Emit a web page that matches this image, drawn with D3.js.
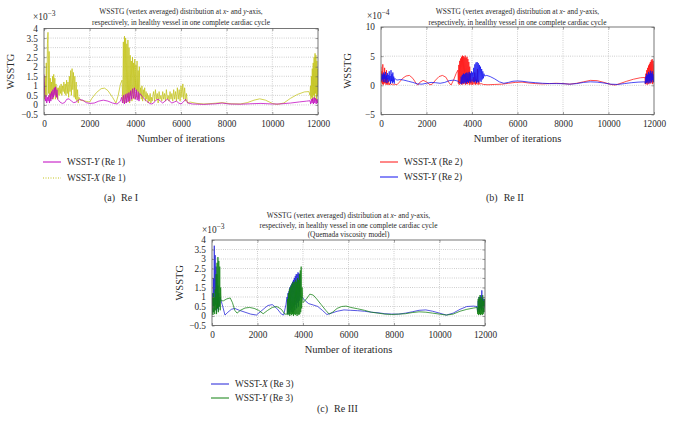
<!DOCTYPE html>
<html><head><meta charset="utf-8">
<script src="https://cdn.jsdelivr.net/npm/d3@7"></script>
<style>
body{margin:0;background:#fff;}
svg{display:block;}
svg text{font-family:"Liberation Serif","DejaVu Serif",serif !important;white-space:pre;}
</style></head><body>
<svg id="chart" width="675" height="432" font-family="Liberation Serif, serif"></svg>
<script>
// ---------- DATA (iteration, value in axis units) ----------
const xTicks = [0,2000,4000,6000,8000,10000,12000];
const yTicksA = [-0.5,0,0.5,1,1.5,2,2.5,3,3.5,4];
const yTicksB = [-5,0,5,10];
const yTicksC = [-0.5,0,0.5,1,1.5,2,2.5,3,3.5,4];

const re1Y = [[0,1.6],[30,0.6],[60,0.2],[90,0.5],[120,0.1],[150,0.4],[180,0.2],[210,0.5],[240,0.1],[270,0.6],[300,0.2],[330,0.7],[360,0.3],[390,0.8],[420,0.4],[450,0.9],[480,0.5],[510,0.95],[540,0.4],[570,0.8],[600,0.3],
[700,0.15],[800,0.08],[900,0.12],[1000,0.3],[1100,0.32],[1200,0.2],[1300,0.12],[1400,0.15],[1550,0.28],[1700,0.25],[1850,0.12],[2000,0.08],[2200,0.1],[2400,0.2],[2600,0.25],[2800,0.2],[3000,0.1],[3200,0.05],[3350,0.2],
[3400,0.4],[3440,0.1],[3480,0.5],[3520,0.05],[3560,0.55],[3600,0.1],[3640,0.6],[3680,0.15],[3720,0.65],[3760,0.2],[3800,0.75],[3840,0.3],[3880,0.85],[3920,0.35],[3960,0.9],[4000,0.3],[4040,0.8],[4080,0.25],[4120,0.7],[4160,0.2],[4200,0.6],
[4300,0.45],[4400,0.3],[4500,0.2],[4600,0.1],[4700,0.05],[4800,0.1],[4900,0.25],[5000,0.3],[5100,0.2],[5200,0.1],[5300,0.2],[5400,0.3],[5500,0.2],[5600,0.1],[5700,0.15],[5800,0.2],[5900,0.1],[6000,0.05],[6100,0.15],[6200,0.3],[6300,0.1],[6500,0.05],[7000,0.03],[7500,0.06],[7800,0.1],[8100,0.05],[8600,0.04],[9000,0.06],[9500,0.08],[10000,0.05],[10300,0.05],[10800,0.1],[11200,0.16],[11500,0.2],[11650,0.22],
[11680,0.05],[11710,0.3],[11740,0.1],[11770,0.35],[11800,0.05],[11830,0.4],[11860,0.1],[11890,0.35],[11920,0.05],[11950,0.3],[11980,0.1],[12000,0.3]];

const re1X = [[0,1.2],[25,0.3],[50,1.5],[75,0.4],[100,2.2],[125,0.5],[150,3.2],[175,3.8],[200,0.6],[225,2.8],[250,0.4],[275,1.4],[300,0.3],[325,1.2],[350,0.5],[375,1.5],[400,0.3],[425,1.6],[450,0.6],[475,1.4],[500,0.3],[525,1.1],[550,0.4],[575,0.9],[600,0.3],
[630,0.9],[660,0.5],[690,1.0],[720,0.6],[750,1.1],[780,0.5],[810,1.0],[840,0.7],[870,1.2],[900,0.6],[930,1.1],[960,0.5],[990,1.3],[1020,0.6],[1050,1.2],[1080,0.4],[1110,1.5],[1140,0.7],[1170,1.8],[1200,0.5],[1230,1.9],[1260,0.8],[1290,1.7],[1320,0.4],[1350,1.5],[1380,0.3],[1410,1.2],[1440,0.2],[1470,0.8],[1500,0.1],[1530,0.4],
[1600,0.25],[1800,0.2],[2000,0.15],[2100,0.35],[2300,0.65],[2500,0.85],[2650,0.88],[2800,0.75],[3000,0.4],[3150,0.1],[3250,0.5],[3350,1.1],[3420,1.3],
[3450,0.2],[3475,3.3],[3500,0.1],[3525,3.6],[3550,0.3],[3575,3.5],[3600,0.1],[3625,3.2],[3650,0.4],[3675,3.4],[3700,0.2],[3725,3.0],[3750,0.1],[3775,2.6],[3800,0.5],[3825,2.3],[3850,0.2],[3875,2.5],[3900,0.6],[3925,2.2],[3950,0.3],[3975,2.4],[4000,0.8],[4025,2.1],[4050,0.4],[4075,2.3],[4100,0.7],[4125,1.8],[4150,0.3],[4175,2.0],[4200,0.5],
[4230,0.9],[4260,0.3],[4290,1.0],[4320,0.2],[4350,0.8],[4380,0.4],[4410,0.9],[4440,0.2],[4470,0.7],[4500,0.3],[4530,0.6],[4560,0.1],[4590,0.5],[4620,0.2],[4650,0.6],[4680,0.1],[4710,0.4],[4740,0.2],[4770,0.5],
[4800,0.7],[4840,0.2],[4880,0.8],[4920,0.3],[4960,0.6],[5000,0.1],[5040,0.7],[5080,0.3],[5120,0.5],[5160,0.2],[5200,0.7],[5240,0.3],[5280,0.6],[5320,0.2],[5360,0.8],[5400,0.3],[5440,0.5],[5480,0.2],[5520,0.7],[5560,0.3],[5600,0.6],[5640,0.2],[5680,0.8],[5720,0.3],[5760,0.7],[5800,0.2],[5840,0.9],[5880,0.3],[5920,0.8],[5960,0.2],[6000,1.0],[6040,0.4],[6080,1.1],[6120,0.3],[6160,0.9],[6200,0.2],[6240,0.6],[6280,0.1],
[6400,0.15],[6700,0.08],[7000,0.05],[7400,0.08],[7800,0.12],[8200,0.06],[8600,0.05],[8900,0.12],[9200,0.25],[9450,0.32],[9700,0.25],[10000,0.08],[10200,0.03],[10500,0.1],[10800,0.35],[11100,0.55],[11400,0.68],[11600,0.7],
[11650,0.5],[11670,1.0],[11690,0.3],[11710,1.5],[11730,0.4],[11750,1.9],[11770,0.2],[11790,2.2],[11810,0.5],[11830,2.5],[11850,0.3],[11870,2.7],[11890,0.6],[11910,2.6],[11930,0.2],[11950,2.3],[11970,0.5],[11990,1.9],[12000,0.7]];

const re2X = [[0,3.2],[20,0.5],[40,2.4],[60,0.2],[80,3.6],[100,0.1],[120,2.0],[140,0.3],[160,3.0],[180,0.4],[200,1.5],[220,0.1],[240,2.6],[260,0.2],[280,1.2],[300,0.1],[330,0.8],[360,0.05],[400,0.4],[450,0.1],[500,0.3],[550,0.05],[600,0.2],
[700,0.1],[800,0.5],[950,1.2],[1100,1.6],[1250,1.7],[1400,1.2],[1550,0.3],[1620,0.05],[1700,0.5],[1850,0.85],[2000,0.6],[2150,0.1],[2250,0.2],[2400,0.9],[2550,1.5],[2700,1.7],[2850,1.4],[3000,0.4],[3080,0.05],[3200,1.0],[3300,2.0],[3380,2.6],
[3400,0.3],[3420,3.5],[3440,0.1],[3460,4.2],[3480,0.4],[3500,4.6],[3520,0.2],[3540,4.9],[3560,0.1],[3580,5.1],[3600,0.3],[3620,5.0],[3640,0.2],[3660,4.8],[3680,0.5],[3700,5.1],[3720,0.1],[3740,4.7],[3760,0.3],[3780,4.9],[3800,0.2],[3820,4.5],[3840,0.4],[3860,4.0],[3880,0.1],[3900,3.2],[3920,0.3],[3940,2.0],[3960,0.1],
[4000,1.0],[4030,0.1],[4060,1.4],[4090,0.2],[4120,2.2],[4150,0.1],[4180,1.0],[4210,0.2],[4240,2.8],[4270,0.1],[4300,0.8],[4330,0.2],[4400,0.3],[4500,0.15],[4700,0.1],[5000,0.15],[5300,0.2],[5600,0.35],[5900,0.5],[6200,0.55],[6500,0.4],[6800,0.3],[7100,0.25],[7400,0.3],[7700,0.35],[8000,0.3],[8300,0.2],[8600,0.35],[8900,0.6],[9200,0.85],[9500,0.8],[9800,0.5],[10100,0.15],[10300,0.05],[10500,0.3],[10800,0.7],[11100,1.05],[11400,1.3],[11600,1.35],
[11620,0.2],[11640,2.0],[11660,0.3],[11680,2.6],[11700,0.1],[11720,3.0],[11740,0.4],[11760,3.4],[11780,0.2],[11800,3.7],[11820,0.5],[11840,4.0],[11860,0.3],[11880,4.3],[11900,0.6],[11920,4.5],[11940,0.2],[11960,4.2],[11980,0.5],[12000,3.6]];

const re2Y = [[0,1.6],[20,0.8],[40,2.0],[60,1.0],[80,1.8],[100,0.6],[120,2.2],[140,1.1],[160,1.9],[180,0.5],[200,2.3],[220,0.9],[240,1.7],[260,0.4],[280,2.1],[300,1.0],[320,1.8],[340,0.6],[360,2.4],[380,0.8],[400,1.6],[420,0.3],[440,2.6],[460,0.7],[480,1.9],[500,0.4],[520,2.2],[540,0.6],[560,1.5],[580,0.3],[600,1.2],
[700,0.9],[850,1.0],[1000,0.9],[1200,0.7],[1400,0.5],[1600,0.25],[1800,0.2],[2000,0.35],[2200,0.5],[2400,0.45],[2600,0.35],[2800,0.5],[3000,0.8],[3200,0.9],[3400,0.7],
[3500,0.3],[3525,1.5],[3550,0.2],[3575,1.8],[3600,0.4],[3625,2.0],[3650,0.3],[3675,1.9],[3700,0.5],[3725,2.1],[3750,0.3],[3775,2.2],[3800,0.6],[3825,2.0],[3850,0.4],[3875,2.3],[3900,0.7],[3925,2.1],[3950,0.5],[3975,2.4],[4000,0.8],[4025,2.2],[4050,0.6],[4075,3.0],[4100,0.5],[4125,3.6],[4150,0.7],[4175,3.9],[4200,0.4],[4225,4.0],[4250,0.6],[4275,3.8],[4300,0.5],[4325,3.5],[4350,0.8],[4375,3.2],[4400,0.6],[4425,2.8],[4450,1.0],[4475,2.4],[4500,1.2],[4525,2.0],[4550,1.6],
[4650,1.7],[4800,1.5],[5000,1.1],[5200,0.6],[5400,0.35],[5600,0.5],[5800,0.7],[6000,0.75],[6200,0.7],[6500,0.55],[6800,0.45],[7100,0.35],[7400,0.3],[7700,0.3],[8000,0.28],[8300,0.2],[8600,0.3],[8900,0.5],[9200,0.6],[9500,0.55],[9800,0.4],[10100,0.2],[10400,0.15],[10700,0.3],[11000,0.45],[11300,0.55],[11600,0.6],
[11620,0.3],[11640,1.5],[11660,0.4],[11680,2.0],[11700,0.6],[11720,1.8],[11740,0.3],[11760,2.3],[11780,0.7],[11800,2.0],[11820,0.4],[11840,2.5],[11860,0.8],[11880,2.1],[11900,0.5],[11920,2.4],[11940,0.9],[11960,1.9],[11980,0.6],[12000,1.5]];

const re3X = [[0,0.3],[20,1.2],[40,0.2],[60,2.0],[80,0.5],[100,3.7],[120,0.3],[140,3.2],[160,0.6],[180,2.6],[200,0.2],[220,2.2],[240,0.4],[260,1.6],[280,0.3],[300,1.2],[320,0.5],[350,1.0],
[450,0.6],[570,0.05],[700,0.2],[850,0.35],[1000,0.4],[1200,0.3],[1450,0.2],[1700,0.1],[1950,0.05],[2200,0.3],[2450,0.55],[2650,0.6],[2850,0.4],[3050,0.1],[3150,0.05],[3250,0.6],
[3300,1.0],[3320,0.1],[3340,1.2],[3360,0.2],[3380,1.3],[3400,0.1],[3420,1.5],[3440,0.3],[3460,1.6],[3480,0.2],[3500,1.7],[3520,0.4],[3540,1.8],[3560,0.2],[3580,1.9],[3600,0.5],[3620,2.0],[3640,0.3],[3660,2.1],[3680,0.6],[3700,2.2],[3720,0.4],[3740,2.2],[3760,0.7],[3780,2.3],[3800,0.5],[3820,2.25],[3840,0.8],[3860,2.2],[3880,1.0],
[3950,1.0],[4100,0.8],[4250,0.65],[4450,0.58],[4650,0.5],[4850,0.3],[5050,0.08],[5250,0.15],[5500,0.25],[5800,0.32],[6100,0.3],[6400,0.28],[6700,0.25],[7000,0.2],[7300,0.17],[7600,0.12],[7900,0.1],[8200,0.1],[8500,0.15],[8800,0.22],[9100,0.3],[9400,0.32],[9700,0.25],[10000,0.15],[10300,0.05],[10600,0.15],[10900,0.35],[11200,0.5],[11500,0.52],[11650,0.5],
[11680,0.2],[11700,0.8],[11720,0.3],[11740,1.0],[11760,0.2],[11780,0.9],[11800,0.4],[11820,1.1],[11840,0.3],[11860,1.35],[11880,0.4],[11900,1.0],[11920,0.2],[11940,0.9],[11960,0.5],[11980,0.8],[12000,0.4]];

const re3Y = [[0,0.1],[20,1.0],[40,0.05],[60,1.2],[80,0.2],[100,1.0],[120,0.1],[140,1.4],[160,0.3],[180,2.2],[200,0.1],[220,2.8],[240,0.4],[260,3.1],[280,0.2],[300,2.9],[320,0.5],[340,2.6],[360,0.3],[380,1.5],[400,0.8],
[500,0.8],[650,0.9],[800,0.95],[900,0.7],[1000,0.3],[1100,0.15],[1250,0.3],[1450,0.42],[1650,0.45],[1850,0.4],[2050,0.3],[2250,0.12],[2450,0.3],[2650,0.45],[2850,0.5],[3050,0.35],[3200,0.1],
[3300,0.1],[3320,0.9],[3340,0.05],[3360,1.2],[3380,0.1],[3400,1.4],[3420,0.0],[3440,1.5],[3460,0.1],[3480,1.6],[3500,0.05],[3520,1.7],[3540,0.1],[3560,1.8],[3580,0.0],[3600,1.7],[3620,0.1],[3640,1.8],[3660,0.05],[3680,1.9],[3700,0.1],[3720,1.8],[3740,0.0],[3760,2.0],[3780,0.1],[3800,1.9],[3820,0.05],[3840,2.2],[3860,0.1],[3880,2.4],[3900,0.2],[3920,2.6],[3940,0.4],[3960,1.5],
[4000,0.7],[4150,0.9],[4300,1.15],[4450,1.1],[4600,0.9],[4800,0.6],[5000,0.3],[5150,0.1],[5300,0.2],[5500,0.4],[5700,0.5],[5900,0.52],[6100,0.45],[6400,0.38],[6700,0.3],[7000,0.2],[7300,0.15],[7600,0.1],[7900,0.08],[8200,0.1],[8500,0.12],[8800,0.18],[9100,0.22],[9400,0.2],[9700,0.15],[10000,0.1],[10300,0.05],[10600,0.1],[10900,0.25],[11200,0.35],[11500,0.42],[11650,0.45],
[11680,0.1],[11700,0.9],[11720,0.05],[11740,1.0],[11760,0.1],[11780,1.1],[11800,0.05],[11820,1.0],[11840,0.1],[11860,0.9],[11880,0.05],[11900,1.1],[11920,0.1],[11940,0.8],[11960,0.2],[11980,0.9],[12000,0.5]];

const titleAB = ["WSSTG (vertex averaged) distribution at x- and y-axis,",
                 "respectively, in healthy vessel in one complete cardiac cycle"];
const titleC = ["WSSTG (vertex averaged) distribution at x- and y-axis,",
                "respectively, in healthy vessel in one complete cardiac cycle",
                "(Quemada viscosity model)"];

// ---------- DRAW ----------
const svg = d3.select("#chart");
const FONT = "Liberation Serif, DejaVu Serif, serif";
const TXT = "#2a2a2a";

function titleLine(g, txt, x, y) {
  const t = g.append("text").attr("x", x).attr("y", y).attr("text-anchor","middle")
    .attr("font-family", FONT).attr("font-size", 7.4).attr("fill", TXT);
  const parts = txt.split(/(\bx-|\by-)/);
  parts.forEach(p => {
    if (p === "x-" || p === "y-") {
      t.append("tspan").attr("font-style","italic").text(p[0]);
      t.append("tspan").text("-");
    } else t.append("tspan").text(p);
  });
}

function legendText(g, x, y, axisLetter, re) {
  const t = g.append("text").attr("x", x).attr("y", y).attr("dy","0.35em")
    .attr("font-family", FONT).attr("font-size", 9.3).attr("fill", TXT);
  t.append("tspan").text("WSST-");
  t.append("tspan").attr("font-style","italic").text(axisLetter);
  t.append("tspan").text(" (Re " + re + ")");
}

function panel(cfg) {
  const x = d3.scaleLinear().domain([0,12000]).range([cfg.x0, cfg.x1]);
  const y = d3.scaleLinear().domain(cfg.yDomain).range([cfg.yb, cfg.yt]);
  const g = svg.append("g");

  g.selectAll(".vg").data(xTicks.slice(1,-1)).join("line")
    .attr("x1", d=>x(d)).attr("x2", d=>x(d)).attr("y1", cfg.yt).attr("y2", cfg.yb)
    .attr("stroke","#9a9a9a").attr("stroke-width",0.6).attr("stroke-dasharray","0.8,1.4");
  g.selectAll(".hg").data(cfg.yTicks.filter(d=>d>cfg.yDomain[0] && d<cfg.yDomain[1])).join("line")
    .attr("x1", cfg.x0).attr("x2", cfg.x1).attr("y1", d=>y(d)).attr("y2", d=>y(d))
    .attr("stroke","#9a9a9a").attr("stroke-width",0.6).attr("stroke-dasharray","0.8,1.4");

  const cid = "clip" + cfg.id;
  svg.append("clipPath").attr("id", cid).append("rect")
    .attr("x", cfg.x0).attr("y", cfg.yt).attr("width", cfg.x1-cfg.x0).attr("height", cfg.yb-cfg.yt);
  const line = d3.line().x(d=>x(d[0])).y(d=>y(d[1]));
  const lg = g.append("g").attr("clip-path", `url(#${cid})`);
  cfg.drawOrder.forEach(i => {
    const s = cfg.series[i];
    lg.append("path").datum(s.data).attr("d", line).attr("fill","none")
      .attr("stroke", s.color).attr("stroke-width", 0.75).attr("stroke-linejoin","round");
  });

  const ax = g.append("g").attr("transform",`translate(0,${cfg.yb})`)
    .call(d3.axisBottom(x).tickValues(xTicks).tickFormat(d3.format("d")).tickSizeInner(-2.5).tickSizeOuter(0).tickPadding(6));
  const axT = g.append("g").attr("transform",`translate(0,${cfg.yt})`)
    .call(d3.axisTop(x).tickValues(xTicks).tickFormat("").tickSizeInner(-2.5).tickSizeOuter(0));
  const ay = g.append("g").attr("transform",`translate(${cfg.x0},0)`)
    .call(d3.axisLeft(y).tickValues(cfg.yTicks).tickFormat(d3.format("~g")).tickSizeInner(-2.5).tickSizeOuter(0).tickPadding(6));
  const ayR = g.append("g").attr("transform",`translate(${cfg.x1},0)`)
    .call(d3.axisRight(y).tickValues(cfg.yTicks).tickFormat("").tickSizeInner(-2.5).tickSizeOuter(0));
  [ax, axT, ay, ayR].forEach(a => {
    a.attr("font-family", FONT).attr("font-size", 9.3);
    a.select(".domain").remove();
    a.selectAll("line").attr("stroke","#666").attr("stroke-width",0.6);
    a.selectAll("text").attr("fill", TXT);
  });
  g.append("rect").attr("x", cfg.x0).attr("y", cfg.yt).attr("width", cfg.x1-cfg.x0).attr("height", cfg.yb-cfg.yt)
    .attr("fill","none").attr("stroke","#555").attr("stroke-width",0.8);

  const e = g.append("text").attr("x", cfg.expX).attr("y", cfg.expY)
    .attr("font-family", FONT).attr("font-size", 9.3).attr("fill", TXT);
  e.append("tspan").text("×10");
  e.append("tspan").attr("dy",-4).attr("font-size",7.5).text(cfg.exp);

  g.append("text").attr("transform",`translate(${cfg.ylabX},${(cfg.yt+cfg.yb)/2}) rotate(-90)`)
    .attr("text-anchor","middle").attr("font-family", FONT).attr("font-size", 10.5).attr("fill", TXT).text("WSSTG");
  g.append("text").attr("x",(cfg.x0+cfg.x1)/2).attr("y", cfg.yb+27).attr("text-anchor","middle")
    .attr("font-family", FONT).attr("font-size", 10.5).attr("fill", TXT).text("Number of iterations");

  cfg.title.forEach((t,i) => titleLine(g, t, (cfg.x0+cfg.x1)/2, cfg.titleY + i*cfg.titleDy));

  cfg.series.forEach((s,i) => {
    const ly = cfg.legY[i];
    const ll = g.append("line").attr("x1", cfg.x0-1).attr("x2", cfg.x0+17).attr("y1", ly).attr("y2", ly)
      .attr("stroke", s.color).attr("stroke-width", 1);
    if (s.legDash) ll.attr("stroke-dasharray", s.legDash);
    legendText(g, cfg.x0+23, ly, s.letter, s.re);
  });

  const c = g.append("text").attr("x", cfg.capX).attr("y", cfg.capY)
    .attr("font-family", FONT).attr("font-size", 10).attr("fill", TXT);
  c.append("tspan").text(cfg.caption[0]);
  c.append("tspan").attr("dx", 6).text(cfg.caption[1]);
}

panel({id:"a", x0:44, x1:318, yt:28.5, yb:114.5, yDomain:[-0.5,4], yTicks:yTicksA, exp:"−3",
  expX:33, expY:20, ylabX:14, title:titleAB, titleY:14, titleDy:11,
  series:[{data:re1Y, color:"#c000c0", letter:"Y", re:1},
          {data:re1X, color:"#c3c31a", letter:"X", re:1, legDash:"1,1.5"}],
  drawOrder:[1,0],
  legY:[162,178], caption:["(a)","Re I"], capX:104, capY:201});

panel({id:"b", x0:381, x1:654, yt:27, yb:114.5, yDomain:[-5,10], yTicks:yTicksB, exp:"−4",
  expX:367, expY:19, ylabX:351, title:titleAB, titleY:14, titleDy:11,
  series:[{data:re2X, color:"#ff1010", letter:"X", re:2},
          {data:re2Y, color:"#1010f0", letter:"Y", re:2}],
  drawOrder:[0,1],
  legY:[162,177], caption:["(b)","Re II"], capX:486, capY:201});

panel({id:"c", x0:212, x1:485, yt:240, yb:325.5, yDomain:[-0.5,4], yTicks:yTicksC, exp:"−3",
  expX:202, expY:233, ylabX:183, title:titleC, titleY:218, titleDy:9.5,
  series:[{data:re3X, color:"#2020d8", letter:"X", re:3},
          {data:re3Y, color:"#108010", letter:"Y", re:3}],
  drawOrder:[0,1],
  legY:[384,398], caption:["(c)","Re III"], capX:317, capY:412});
</script>
</body></html>
